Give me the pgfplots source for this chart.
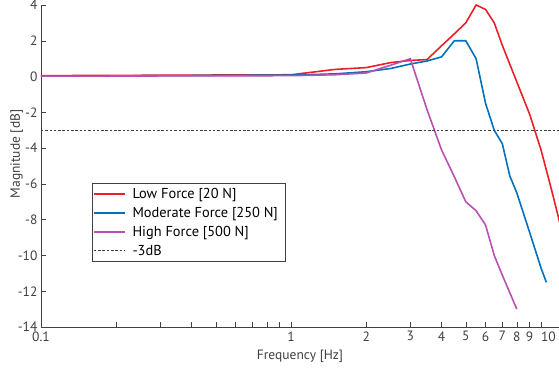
\documentclass[border=0pt]{standalone}
\usepackage{fontspec}
\setmainfont{PT Sans}
\usepackage{pgfplots}
\pgfplotsset{compat=1.18}
\definecolor{cRed}{RGB}{235,32,38}
\definecolor{cBlue}{RGB}{0,114,189}
\definecolor{cPurp}{RGB}{185,80,180}
\definecolor{axgray}{RGB}{64,64,64}
\pgfplotsset{
  legend image code/.code={\draw[mark repeat=2,mark phase=2] plot coordinates {(0cm,0cm) (0.55cm,0cm) (1.1cm,0cm)};},
}
\begin{document}
\begin{tikzpicture}
\begin{axis}[
  name=ax,
  xmode=log,
  scale only axis,
  width=518pt, height=322pt,
  xmin=0.1, xmax=11.8,
  ymin=-14, ymax=4,
  axis lines*=left,
  axis line style={axgray, line width=0.6pt},
  every tick/.style={axgray, line width=0.5pt},
  tick align=inside,
  major tick length=5pt,
  minor tick length=5pt,
  xtick={0.1,1,2,3,4,5,6,7,8,9,10},
  xticklabels={0.1,1,2,3,4,5,6,7,8,9,\rlap{10}},
  minor xtick={0.2,0.3,0.4,0.5,0.6,0.7,0.8,0.9},
  ytick={-14,-12,...,4},
  yticklabels={-14,-12,-10,-8,-6,-4,-2,0,2,4},
  tick label style={font=\fontsize{13.5}{15}\selectfont, text=axgray},
  xticklabel style={yshift=-1pt},
  xlabel={Frequency [Hz]},
  ylabel={Magnitude [dB]},
  label style={font=\fontsize{13.5}{15}\selectfont, text=axgray},
  xlabel style={yshift=-2pt},
  ylabel style={yshift=-12pt, xshift=12pt},
  clip=true,
  legend cell align=left,
  legend style={at={(rel axis cs:0.098,0.447)}, anchor=north west,
    draw=axgray, font=\fontsize{14.4}{17}\selectfont,
    inner xsep=1pt, inner ysep=3pt, row sep=4.3pt,
    nodes={inner ysep=1.5pt, inner xsep=6.5pt}},
]
\addlegendimage{color=cRed, line width=1.8pt}
\addlegendentry{Low Force [20 N]}
\addlegendimage{color=cBlue, line width=1.8pt}
\addlegendentry{Moderate Force [250 N]}
\addlegendimage{color=cPurp, line width=1.8pt}
\addlegendentry{High Force [500 N]}
\addlegendimage{color=black!75, line width=0.7pt, dash pattern=on 2.5pt off 1.8pt}
\addlegendentry{-3dB}
\addplot[cRed, line width=1.6pt, forget plot] coordinates {
(0.1,0.05) (1,0.1) (1.5,0.4) (2,0.5) (2.5,0.78) (3,0.9) (3.5,0.95)
(4,1.72) (4.5,2.39) (5,3.0) (5.5,4.0) (6,3.75) (6.5,3.0) (7,1.75)
(8,-0.3) (9,-2.1) (10,-4.1) (11,-6.3) (12,-8.4)};
\addplot[cBlue, line width=1.6pt, forget plot] coordinates {
(0.1,0.02) (1,0.08) (1.5,0.15) (2,0.27) (2.5,0.45) (3,0.7) (3.5,0.87)
(4,1.1) (4.5,2.0) (5,2.0) (5.5,1.0) (6,-1.5) (6.5,-3.0) (7,-3.75)
(7.5,-5.55) (8,-6.5) (9,-8.7) (10,-10.7) (10.5,-11.5)};
\addplot[cPurp, line width=1.6pt, forget plot] coordinates {
(0.1,0.02) (1,0.05) (1.5,0.1) (2,0.2) (2.5,0.63) (3,1.0) (3.5,-1.85)
(4,-4.1) (4.5,-5.6) (5,-7.0) (5.5,-7.5) (6,-8.3) (6.5,-10.0) (7,-11.1)
(8,-13.0)};
\addplot[black!75, line width=0.7pt, dash pattern=on 2.5pt off 1.8pt, forget plot] coordinates {(0.1,-3) (11.8,-3)};
\end{axis}
\pgfresetboundingbox
\path[use as bounding box] ([shift={(-41pt,-40pt)}]ax.south west) rectangle ([shift={(0pt,5pt)}]ax.north east);
\end{tikzpicture}
\end{document}
